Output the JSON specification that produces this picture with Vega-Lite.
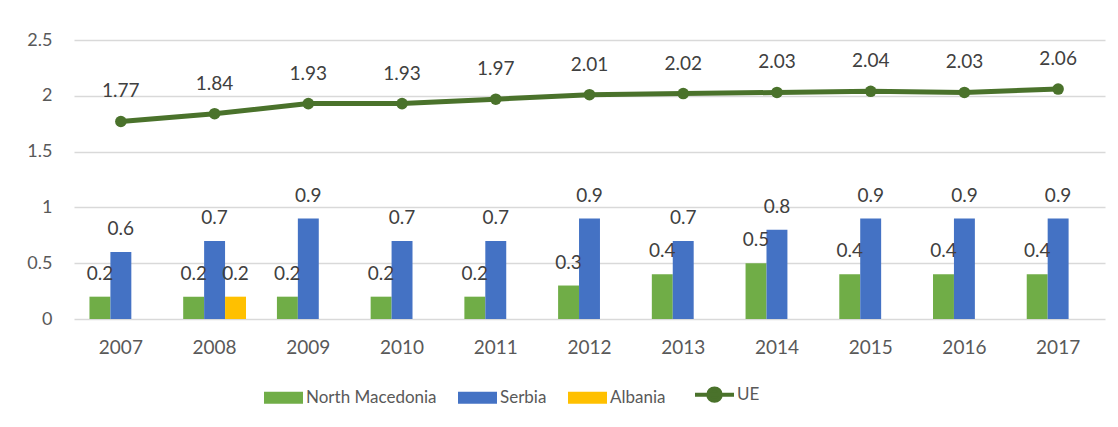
{
  "$schema": "https://vega.github.io/schema/vega-lite/v6.json",
  "width": 1031,
  "height": 279,
  "padding": {"left": 14, "top": 31, "right": 10, "bottom": 10},
  "background": "white",
  "config": {
    "font": "Lato",
    "view": {"stroke": null},
    "axis": {"labelFont": "Lato", "labelColor": "#595959", "domain": false, "ticks": false, "title": null}
  },
  "datasets": {
    "bars": [
      {"year": "2007", "series": "North Macedonia", "value": 0.2},
      {"year": "2007", "series": "Serbia", "value": 0.6},
      {"year": "2008", "series": "North Macedonia", "value": 0.2},
      {"year": "2008", "series": "Serbia", "value": 0.7},
      {"year": "2008", "series": "Albania", "value": 0.2},
      {"year": "2009", "series": "North Macedonia", "value": 0.2},
      {"year": "2009", "series": "Serbia", "value": 0.9},
      {"year": "2010", "series": "North Macedonia", "value": 0.2},
      {"year": "2010", "series": "Serbia", "value": 0.7},
      {"year": "2011", "series": "North Macedonia", "value": 0.2},
      {"year": "2011", "series": "Serbia", "value": 0.7},
      {"year": "2012", "series": "North Macedonia", "value": 0.3},
      {"year": "2012", "series": "Serbia", "value": 0.9},
      {"year": "2013", "series": "North Macedonia", "value": 0.4},
      {"year": "2013", "series": "Serbia", "value": 0.7},
      {"year": "2014", "series": "North Macedonia", "value": 0.5},
      {"year": "2014", "series": "Serbia", "value": 0.8},
      {"year": "2015", "series": "North Macedonia", "value": 0.4},
      {"year": "2015", "series": "Serbia", "value": 0.9},
      {"year": "2016", "series": "North Macedonia", "value": 0.4},
      {"year": "2016", "series": "Serbia", "value": 0.9},
      {"year": "2017", "series": "North Macedonia", "value": 0.4},
      {"year": "2017", "series": "Serbia", "value": 0.9}
    ],
    "ue": [
      {"year": "2007", "series": "UE", "value": 1.77},
      {"year": "2008", "series": "UE", "value": 1.84},
      {"year": "2009", "series": "UE", "value": 1.93},
      {"year": "2010", "series": "UE", "value": 1.93},
      {"year": "2011", "series": "UE", "value": 1.97},
      {"year": "2012", "series": "UE", "value": 2.01},
      {"year": "2013", "series": "UE", "value": 2.02},
      {"year": "2014", "series": "UE", "value": 2.03},
      {"year": "2015", "series": "UE", "value": 2.04},
      {"year": "2016", "series": "UE", "value": 2.03},
      {"year": "2017", "series": "UE", "value": 2.06}
    ]
  },
  "encoding": {
    "x": {
      "field": "year", "type": "nominal",
      "scale": {"paddingInner": 0.33, "paddingOuter": 0.165},
      "axis": {"labelAngle": 0, "labelFontSize": 19, "labelPadding": 19, "grid": false}
    },
    "y": {
      "field": "value", "type": "quantitative",
      "scale": {"domain": [0, 2.5], "nice": false},
      "axis": {"values": [0, 0.5, 1, 1.5, 2, 2.5], "format": ".1~f", "labelFontSize": 18, "labelPadding": 22, "minExtent": 60, "maxExtent": 60, "grid": true, "gridColor": "#d9d9d9", "gridWidth": 1.5}
    },
    "color": {
      "field": "series", "type": "nominal",
      "scale": {"domain": ["North Macedonia", "Serbia", "Albania", "UE"], "range": ["#70ad47", "#4472c4", "#ffc000", "#4a722b"]},
      "legend": {
        "title": null,
        "orient": "none",
        "direction": "horizontal",
        "legendX": 201,
        "legendY": 346,
        "labelFont": "Lato",
        "labelFontSize": 17,
        "labelColor": "#595959",
        "symbolSize": 1521,
        "symbolOpacity": 1,
        "labelOffset": 14,
        "columnPadding": 21,
        "encode": {
          "symbols": {
            "update": {
              "shape": {"signal": "datum.value === 'UE' ? 'M-1,0H1M0.32,0A0.32,0.32,0,1,1,-0.32,0A0.32,0.32,0,1,1,0.32,0Z' : 'M-1,-0.31H1V0.31H-1Z'"},
              "strokeWidth": {"signal": "datum.value === 'UE' ? 4 : 0"},
              "stroke": {"scale": "color", "field": "value"},
              "fill": {"scale": "color", "field": "value"},
              "opacity": {"value": 1},
              "fillOpacity": {"value": 1}
            }
          }
        }
      }
    }
  },
  "layer": [
    {
      "data": {"name": "bars"},
      "mark": {"type": "bar"},
      "encoding": {
        "xOffset": {"field": "series", "type": "nominal", "scale": {"domain": ["North Macedonia", "Serbia", "Albania"]}}
      }
    },
    {
      "data": {"name": "bars"},
      "mark": {"type": "text", "dy": -23, "baseline": "middle", "fontSize": 19, "font": "Lato"},
      "encoding": {
        "xOffset": {"field": "series", "type": "nominal", "scale": {"domain": ["North Macedonia", "Serbia", "Albania"]}},
        "text": {"field": "value", "type": "quantitative"},
        "color": {"value": "#404040"}
      }
    },
    {
      "data": {"name": "ue"},
      "mark": {"type": "line", "strokeWidth": 5, "point": {"filled": true, "size": 133, "opacity": 1}}
    },
    {
      "data": {"name": "ue"},
      "mark": {"type": "text", "dy": -30, "baseline": "middle", "fontSize": 19, "font": "Lato"},
      "encoding": {
        "text": {"field": "value", "type": "quantitative", "format": ".2f"},
        "color": {"value": "#404040"}
      }
    }
  ]
}
